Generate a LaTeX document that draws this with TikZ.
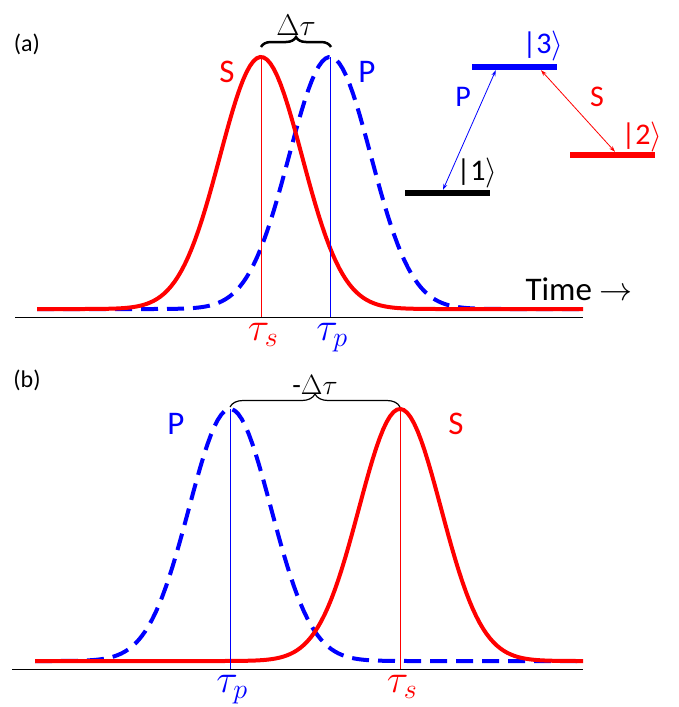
\RequirePackage{fix-cm}
\documentclass[tikz,border=0pt]{standalone}
\usepackage{fontspec}
\setmainfont{Carlito}
\usetikzlibrary{arrows.meta, decorations.pathreplacing}
\pgfmathdeclarefunction{pulse}{2}{\pgfmathparse{exp(-0.5*((#1-#2)/41)^2)}}

\begin{document}
\begin{tikzpicture}[x=1pt, y=-1pt,
  pulseS/.style={red, line width=4pt},
  pulseP/.style={blue, line width=4pt, dash pattern=on 17pt off 9pt},
  peakline/.style={line width=0.7pt},
  axis/.style={black, line width=1pt},
  big/.style={font=\fontsize{33}{38}\selectfont},
  mathlbl/.style={font=\fontsize{40}{44}\selectfont, inner sep=0pt, anchor=north},
  tag/.style={font=\fontsize{24}{28}\selectfont},
  level/.style={minimum width=85pt, minimum height=6pt, inner sep=0pt, draw=none},
  ket/.style={font=\fontsize{30}{34}\selectfont},
  trans/.style={{Stealth[length=6pt,width=4pt]}-{Stealth[length=6pt,width=4pt]}, line width=0.8pt},
]
  \useasboundingbox (0,0) rectangle (678,707);

  % Panel (a)
  \node[tag] (tagA) at (27,44) {(a)};
  \draw[axis] (15,317) coordinate (axA0) -- (583,317) coordinate (axA1);
  \draw[pulseP] plot[domain=37:583, samples=160] (\x, {309-252*pulse(\x,330)});
  \draw[pulseS] plot[domain=37:583, samples=160] (\x, {309-252*pulse(\x,261)});
  \coordinate (pkSa) at (261,57);
  \coordinate (pkPa) at (330,57);
  \draw[peakline, red] (pkSa) -- (pkSa |- axA0);
  \draw[peakline, blue] (pkPa) -- (pkPa |- axA0);
  \node[mathlbl, red] (tauSa) at (263,323) {$\tau_s$};
  \node[mathlbl, blue] (tauPa) at (332,323) {$\tau_p$};
  \node[big, red] (labSa) at (227,72) {S};
  \node[big, blue] (labPa) at (367,72) {P};
  \draw[line width=2.5pt, decorate, decoration={brace, amplitude=10pt}]
    (261,47) -- (331,47) node[midway, above=7pt, font=\fontsize{30}{34}\selectfont] (dtA) {$\Delta\tau$};
  \node[big, anchor=east] (time) at (636,289) {Time $\rightarrow$};

  % level scheme
  \node[level, fill=black] (lev1) at (447.5,193) {};
  \node[level, fill=blue] (lev3) at (514.5,67) {};
  \node[level, fill=red] (lev2) at (612.5,155) {};
  \node[ket] (k1) at (477,173) {|1$\rangle$};
  \node[ket, blue] (k3) at (543,46) {|3$\rangle$};
  \node[ket, red] (k2) at (642,137) {|2$\rangle$};
  \draw[trans, blue] ([xshift=-4.5pt]lev1.north) -- ([xshift=24pt]lev3.south west);
  \draw[trans, red] ([xshift=26.5pt]lev3.south) -- ([xshift=2.5pt]lev2.north);
  \node[font=\fontsize{30}{34}\selectfont, blue] (labP) at (463,97) {P};
  \node[font=\fontsize{30}{34}\selectfont, red] (labS) at (597,97) {S};

  % Panel (b)
  \node[tag] (tagB) at (27,380) {(b)};
  \draw[axis] (12,669) coordinate (axB0) -- (583,669) coordinate (axB1);
  \draw[pulseP] plot[domain=35:583, samples=160] (\x, {661-252*pulse(\x,230)});
  \draw[pulseS] plot[domain=35:583, samples=160] (\x, {661-252*pulse(\x,400)});
  \coordinate (pkPb) at (230,409);
  \coordinate (pkSb) at (400,409);
  \draw[peakline, blue] (pkPb) -- (pkPb |- axB0);
  \draw[peakline, red] (pkSb) -- (pkSb |- axB0);
  \node[mathlbl, blue] (tauPb) at (232,675) {$\tau_p$};
  \node[mathlbl, red] (tauSb) at (402,675) {$\tau_s$};
  \node[big, blue] (labPb) at (176,424) {P};
  \node[big, red] (labSb) at (456,424) {S};
  \draw[line width=1.2pt, decorate, decoration={brace, amplitude=13pt}]
    (230,407) -- (400,407) node[midway, above=9pt, font=\fontsize{28}{32}\selectfont] (dtB) {-$\Delta\tau$};
\end{tikzpicture}
\end{document}
